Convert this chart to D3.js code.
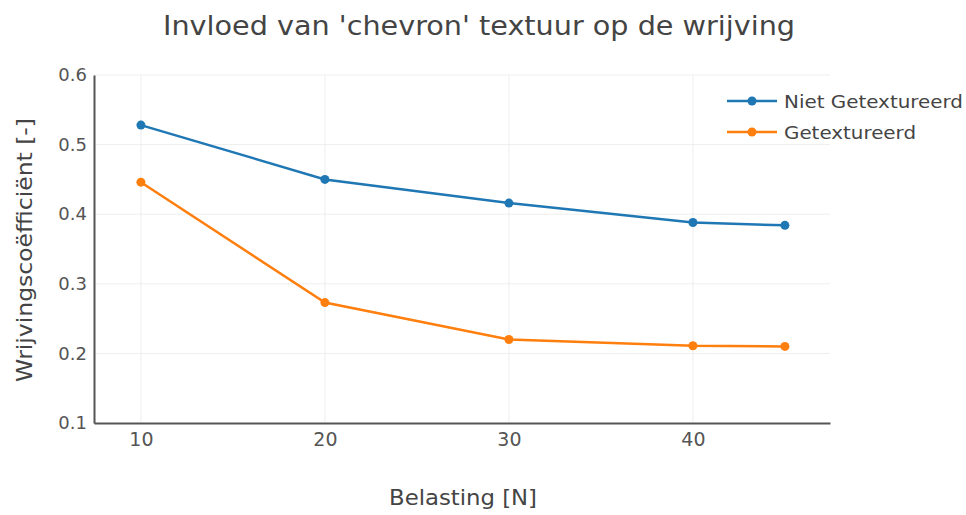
<!DOCTYPE html>
<html><head><meta charset="utf-8">
<script src="https://cdn.jsdelivr.net/npm/d3@7"></script>
<style>body{margin:0;background:#fff}svg{display:block}text{font-family:"DejaVu Sans",Verdana,sans-serif;fill:#444}</style>
</head><body><svg id="c" width="966" height="515"></svg>
<script>
const belasting = [10, 20, 30, 40, 45];
const nietGetextureerd = [0.528, 0.450, 0.416, 0.388, 0.384];
const getextureerd = [0.446, 0.273, 0.220, 0.211, 0.210];
const seriesNames = ["Niet Getextureerd", "Getextureerd"];
const xTicks = [10, 20, 30, 40];
const yTicks = [0.1, 0.2, 0.3, 0.4, 0.5, 0.6];
const colors = ["#1f77b4", "#ff7f0e"];

const svg = d3.select("#c");
const L = 94, R = 830, T = 75, B = 423;
const x = d3.scaleLinear().domain([7.45, 47.45]).range([L, R]);
const y = d3.scaleLinear().domain([0.1, 0.6]).range([B, T]);

// grid
svg.append("g").selectAll("line").data(xTicks).join("line")
  .attr("x1", d => x(d)).attr("x2", d => x(d)).attr("y1", T).attr("y2", B)
  .attr("stroke", "#eee").attr("stroke-width", 1);
svg.append("g").selectAll("line").data(yTicks.slice(1)).join("line")
  .attr("x1", L).attr("x2", R).attr("y1", d => y(d)).attr("y2", d => y(d))
  .attr("stroke", "#eee").attr("stroke-width", 1);

// axes
const xa = svg.append("g").attr("transform", `translate(0,${B})`)
  .call(d3.axisBottom(x).tickValues(xTicks).tickSize(0).tickPadding(10).tickFormat(d3.format("d")));
const ya = svg.append("g").attr("transform", `translate(${L},0)`)
  .call(d3.axisLeft(y).tickValues(yTicks).tickSize(0).tickPadding(7).tickFormat(d3.format(".1f")));
[xa, ya].forEach(a => {
  a.select(".domain").attr("stroke", "#555").attr("stroke-width", 2);
  a.selectAll("text").attr("font-size", 18).style("fill", "#555").attr("font-family", "DejaVu Sans");
});
xa.selectAll("text").attr("font-size", 19);

// lines
const data = [nietGetextureerd, getextureerd];
const line = d3.line().x((d, i) => x(belasting[i])).y(d => y(d));
data.forEach((s, k) => {
  svg.append("path").datum(s).attr("d", line).attr("fill", "none")
    .attr("stroke", colors[k]).attr("stroke-width", 2.5);
  svg.append("g").selectAll("circle").data(s).join("circle")
    .attr("cx", (d, i) => x(belasting[i])).attr("cy", d => y(d)).attr("r", 4.5)
    .attr("fill", colors[k]);
});

// legend
const legendLens = [179, 132];
seriesNames.forEach((n, k) => {
  const ly = 101 + k * 31;
  svg.append("line").attr("x1", 727).attr("x2", 777).attr("y1", ly).attr("y2", ly)
    .attr("stroke", colors[k]).attr("stroke-width", 2.5);
  svg.append("circle").attr("cx", 752).attr("cy", ly).attr("r", 4.5).attr("fill", colors[k]);
  svg.append("text").attr("x", 784).attr("y", ly + 7).attr("font-size", 18)
    .attr("textLength", legendLens[k]).attr("lengthAdjust", "spacingAndGlyphs").text(n);
});

// titles
svg.append("text").attr("x", 479).attr("y", 35).attr("text-anchor", "middle")
  .attr("font-size", 26).attr("textLength", 632).attr("lengthAdjust", "spacingAndGlyphs")
  .text("Invloed van 'chevron' textuur op de wrijving");
svg.append("text").attr("x", 463).attr("y", 505).attr("text-anchor", "middle")
  .attr("font-size", 21).attr("textLength", 148).attr("lengthAdjust", "spacingAndGlyphs")
  .text("Belasting [N]");
svg.append("text").attr("transform", "translate(32,250) rotate(-90)").attr("text-anchor", "middle")
  .attr("font-size", 22).attr("textLength", 264).attr("lengthAdjust", "spacingAndGlyphs")
  .text("Wrijvingscoëfficiënt [-]");
</script></body></html>
